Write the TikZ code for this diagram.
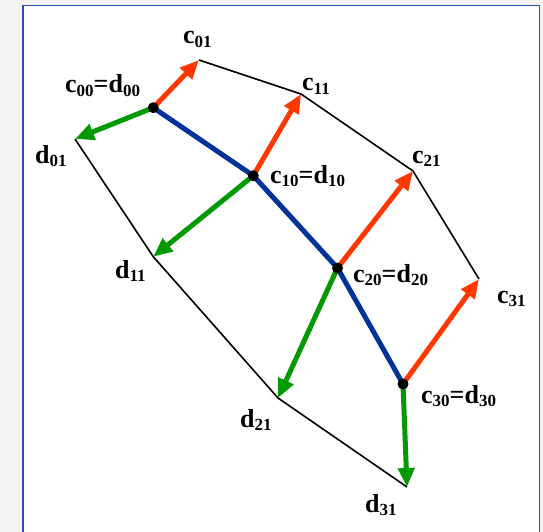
\documentclass[tikz,border=0pt]{standalone}
\usepackage{fontspec}
\setmainfont{Liberation Serif}
\usetikzlibrary{arrows.meta}
\definecolor{cred}{RGB}{255,55,0}
\definecolor{cgreen}{RGB}{0,153,0}
\definecolor{cblue}{RGB}{0,51,153}
\definecolor{cframe}{RGB}{40,80,180}
\definecolor{cbg}{RGB}{243,243,243}
\newcommand\lsub[1]{\raisebox{-3.5pt}{\fontsize{17}{20}\selectfont #1}}
\begin{document}
\begin{tikzpicture}[x=1pt,y=-1pt,
  lbl/.style={anchor=base west,inner sep=0pt,font=\fontsize{26}{30}\bfseries},
  dotn/.style={circle,fill=black,inner sep=0pt,minimum size=11pt},
  pt/.style={inner sep=0pt,minimum size=0pt},
  edge/.style={black,line width=1.6pt},
  chain/.style={cblue,line width=5pt},
  tan/.style={cred,line width=5pt,-{Triangle[length=19pt,width=16pt]}},
  nrm/.style={cgreen,line width=5pt,-{Triangle[length=19pt,width=16pt]}}]
\useasboundingbox (0,0) rectangle (543,532);
\fill[cbg] (0,0) rectangle (543,532);
\fill[white] (23,5.5) rectangle (539.5,540);
\draw[cframe,line width=1.6pt] (23,540) -- (23,5.5) -- (539.5,5.5) -- (539.5,540);
% points
\coordinate (c00) at (153.3,107.7);
\coordinate (c10) at (253.3,175.7);
\coordinate (c20) at (337.5,268);
\coordinate (c30) at (403,384);
\coordinate (c01) at (199,60);
\coordinate (c11) at (301,94);
\coordinate (c21) at (413,171);
\coordinate (c31) at (479,279);
\coordinate (d01) at (75,139);
\coordinate (d11) at (153.3,256.7);
\coordinate (d21) at (278,398);
\coordinate (d31) at (407,487);
% outlines
\draw[edge,line join=miter] (c01) -- (c11) -- (c21) -- (c31);
\draw[edge,line join=miter] (d01) -- (d11) -- (d21) -- (d31);
% arrows
\draw[tan] (c00) -- (c01);
\draw[tan] (c10) -- (c11);
\draw[tan] (c20) -- (c21);
\draw[tan] (c30) -- (c31);
\draw[nrm] (c00) -- (d01);
\draw[nrm] (c10) -- (d11);
\draw[nrm] (c20) -- (d21);
\draw[nrm] (c30) -- (d31);
% blue chain
\draw[chain] (c00) -- (c10) -- (c20) -- (c30);
\node[dotn] (p00) at (c00) {};
\node[dotn] (p10) at (c10) {};
\node[dotn] (p20) at (c20) {};
\node[dotn] (p30) at (c30) {};
% labels
\node[lbl] (l01) at (183,44) {c\lsub{01}};
\node[lbl] (l11) at (302,91) {c\lsub{11}};
\node[lbl] (l21) at (412,163) {c\lsub{21}};
\node[lbl] (l31) at (497,303) {c\lsub{31}};
\node[lbl] (l00) at (65,93) {c\lsub{00}=d\lsub{00}};
\node[lbl] (l10) at (270,183) {c\lsub{10}=d\lsub{10}};
\node[lbl] (l20) at (353,282) {c\lsub{20}=d\lsub{20}};
\node[lbl] (l30) at (421,403) {c\lsub{30}=d\lsub{30}};
\node[lbl] (m01) at (35,163) {d\lsub{01}};
\node[lbl] (m11) at (115,278) {d\lsub{11}};
\node[lbl] (m21) at (240,427) {d\lsub{21}};
\node[lbl] (m31) at (365,512) {d\lsub{31}};
\end{tikzpicture}
\end{document}
